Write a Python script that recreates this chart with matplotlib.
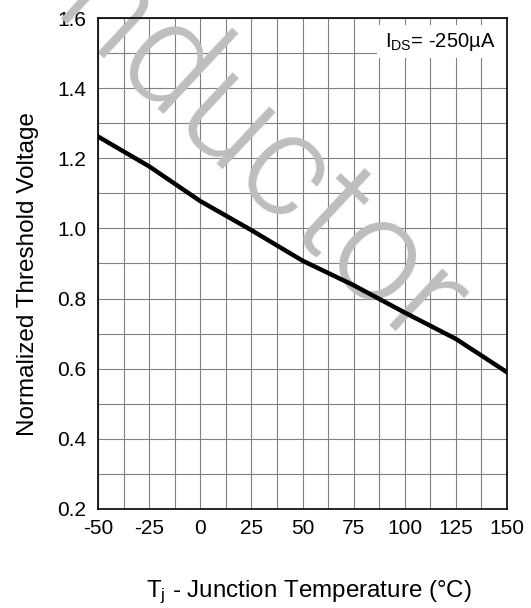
import matplotlib
matplotlib.use("Agg")
import matplotlib.pyplot as plt
from matplotlib.patches import Rectangle
import numpy as np

plt.rcParams['font.family'] = ['Liberation Sans', 'DejaVu Sans']
plt.rcParams['mathtext.fontset'] = 'custom'
plt.rcParams['mathtext.rm'] = 'Liberation Sans'
plt.rcParams['mathtext.it'] = 'Liberation Sans'

# curve
temp_c = [-50, -25, 0, 25, 50, 75, 100, 125, 150]
vth_norm = [1.262, 1.177, 1.078, 0.995, 0.908, 0.838, 0.760, 0.685, 0.590]

x_ticks = [-50, -25, 0, 25, 50, 75, 100, 125, 150]
y_ticks = [0.2, 0.4, 0.6, 0.8, 1.0, 1.2, 1.4, 1.6]
x_grid = np.arange(-50, 151, 12.5)
y_grid = np.arange(0.2, 1.61, 0.1)

fig = plt.figure(figsize=(5.31, 6.08), dpi=100)
ax = fig.add_axes([98 / 531, 1 - 509 / 608, 409 / 531, 491 / 608])

ax.set_xlim(-50, 150)
ax.set_ylim(0.2, 1.6)
ax.set_xticks(x_ticks)
ax.set_xticklabels([str(t) for t in x_ticks])
ax.set_yticks(y_ticks)
ax.set_yticklabels(['%.1f' % v for v in y_ticks])
ax.tick_params(which='both', length=0)
ax.tick_params(axis='x', pad=7, labelsize=15)
ax.tick_params(axis='y', pad=8.5, labelsize=15)

# grid lines drawn by hand so the watermark can sit between grid and tick labels
for gx in x_grid:
    ax.axvline(gx, color='#808080', lw=0.8, zorder=1)
for gy in y_grid:
    ax.axhline(gy, color='#808080', lw=0.8, zorder=1)
for s in ax.spines.values():
    s.set_linewidth(1.2)
    s.set_zorder(5)

# watermark
ax.text(416 / 531, 1 - 356 / 608, 'Semiconductor', transform=fig.transFigure,
        family=['Roboto', 'Liberation Sans'], fontweight=300,
        fontsize=106, color='#bebebe', rotation=-43, rotation_mode='anchor',
        ha='right', va='baseline', zorder=2, clip_on=False)

ax.plot(temp_c, vth_norm, color='black', lw=3.2, solid_joinstyle='miter', zorder=4)

# condition label with white box
ax.add_patch(Rectangle((0.682, 0.9185), 0.318, 0.067, transform=ax.transAxes,
                       facecolor='white', edgecolor='none', zorder=3))
ax.text(0.973, 0.941, r'I$_{\mathrm{DS}}$= -250µA', transform=ax.transAxes,
        ha='right', va='baseline', fontsize=14.5, zorder=6)

fig.text(34 / 531, 1 - 274 / 608, 'Normalized Threshold Voltage', rotation=90,
         rotation_mode='anchor', ha='center', va='baseline', fontsize=17.5)
fig.text(309 / 531, 1 - 597 / 608, r'T$_{\mathrm{j}}$ - Junction Temperature (°C)',
         ha='center', va='baseline', fontsize=17.4)

fig.savefig('out.png', dpi=100)
